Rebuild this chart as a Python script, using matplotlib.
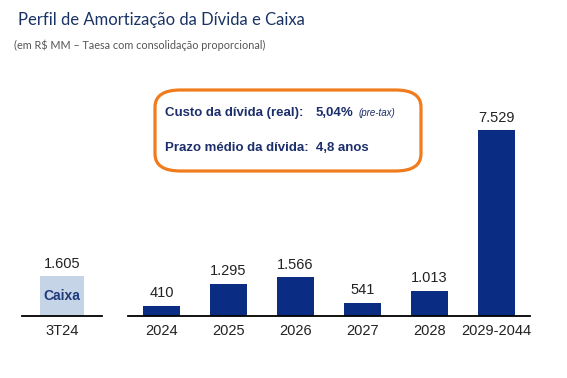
import matplotlib.pyplot as plt
from matplotlib.patches import FancyBboxPatch

# dados
anos = ["2024", "2025", "2026", "2027", "2028", "2029-2044"]
amortizacao = [410, 1295, 1566, 541, 1013, 7529]
rotulos = ["410", "1.295", "1.566", "541", "1.013", "7.529"]
caixa_cat = ["3T24"]
caixa = [1605]
caixa_rot = ["1.605"]

azul = "#0a2c82"
azul_claro = "#c6d4e8"
laranja = "#f07c1e"
W, H = 567, 378
ymax = 8000

fig = plt.figure(figsize=(W / 100, H / 100), dpi=100)

def px(x0, x1, y_base):
    # converte pixels em fracao da figura
    h = ymax / 40.5
    return [x0 / W, (H - y_base) / H, (x1 - x0) / W, h / H]

# eixo principal
ax = fig.add_axes(px(128, 530, 316))
ax.bar(range(len(anos)), amortizacao, width=0.56, color=azul)
for i, (v, r) in enumerate(zip(amortizacao, rotulos)):
    ax.annotate(r, (i, v), xytext=(0, 4), textcoords="offset points",
                ha="center", va="bottom", fontsize=10.5, color="#222222",
                family="Liberation Sans")
ax.set_xticks(range(len(anos)))
ax.set_xticklabels(anos, fontsize=10.5, color="#222222", family="Liberation Sans")
ax.set_xlim(-0.5, len(anos) - 0.5)
ax.set_ylim(0, ymax)

# eixo caixa
ax2 = fig.add_axes(px(22, 102, 316))
ax2.bar(range(len(caixa)), caixa, width=0.56, color=azul_claro)
for i, (v, r) in enumerate(zip(caixa, caixa_rot)):
    ax2.annotate(r, (i, v), xytext=(0, 4), textcoords="offset points",
                 ha="center", va="bottom", fontsize=10.5, color="#222222",
                 family="Liberation Sans")
    ax2.text(i, v / 2, "Caixa", ha="center", va="center", fontsize=10,
             fontweight="bold", color="#1f3a7a", family="Liberation Sans")
ax2.set_xticks(range(len(caixa)))
ax2.set_xticklabels(caixa_cat, fontsize=10.5, color="#222222", family="Liberation Sans")
ax2.set_xlim(-0.5, 0.5)
ax2.set_ylim(0, ymax)

for a in (ax, ax2):
    for s in ["top", "right", "left"]:
        a.spines[s].set_visible(False)
    a.spines["bottom"].set_linewidth(1.3)
    a.set_yticks([])
    a.tick_params(axis="x", length=0, pad=6)
    a.patch.set_alpha(0)

# titulos
fig.text(18 / W, 1 - 20 / H, "Perfil de Amortização da Dívida e Caixa",
         fontsize=12, color="#1a3366", family="Lato", va="center")
fig.text(14 / W, 1 - 45 / H, "(em R$ MM – Taesa com consolidação proporcional)",
         fontsize=7.8, color="#555555", family="Lato", va="center")

# caixa de destaque
box = FancyBboxPatch((155 / W, 1 - 171 / H), 266 / W, 81 / H,
                     boxstyle="round,pad=0,rounding_size=0.045",
                     transform=fig.transFigure, fill=False,
                     edgecolor=laranja, linewidth=2.3)
fig.patches.append(box)
navy = "#1c2f6b"
fig.text(165 / W, 1 - 113 / H, "Custo da dívida (real):", fontsize=9.5,
         fontweight="bold", color=navy, family="Liberation Sans", va="center")
fig.text(316 / W, 1 - 113 / H, "5,04%", fontsize=9.5,
         fontweight="bold", color=navy, family="Liberation Sans", va="center")
fig.text(359 / W, 1 - 113 / H, "(pre-tax)", fontsize=7, style="italic",
         color=navy, family="Liberation Sans", va="center")
fig.text(165 / W, 1 - 148 / H, "Prazo médio da dívida:  4,8 anos", fontsize=9.5,
         fontweight="bold", color=navy, family="Liberation Sans", va="center")

fig.savefig("out.png", dpi=100)
